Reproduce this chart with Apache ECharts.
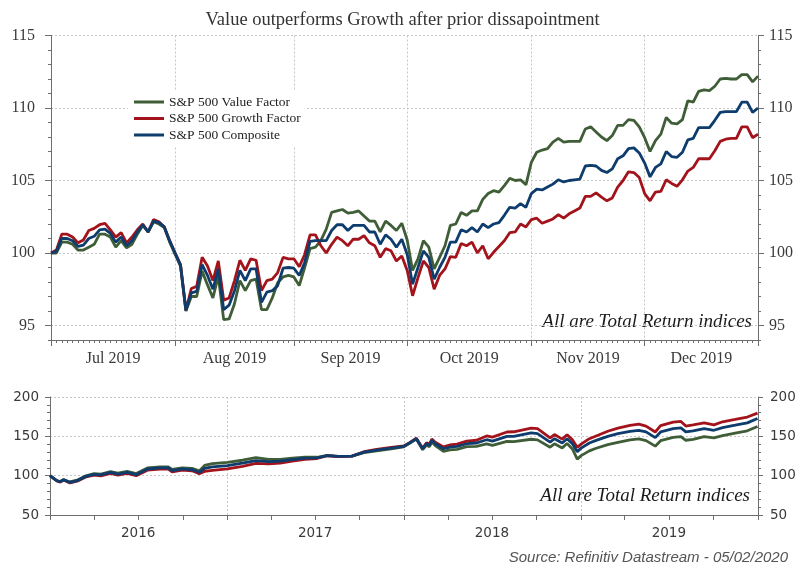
<!DOCTYPE html>
<html><head><meta charset="utf-8">
<script src="https://cdn.jsdelivr.net/npm/echarts@6/dist/echarts.min.js"></script>
<style>html,body{margin:0;padding:0;background:#fff}#c{width:805px;height:567px}</style>
</head><body><div id="c"></div>
<script>
// ---------- data ----------
const seriesNames = ['S&P 500 Value Factor', 'S&P 500 Growth Factor', 'S&P 500 Composite'];

// Top panel: daily (weekday) values, 1 Jul 2019 .. 31 Dec 2019, rebased to 100
const valueFactor2019 = [
100,100.0,100.75,100.75,100.6,100.2,100.2,100.4,100.6,101.3,101.3,101.1,100.4,100.85,100.35,100.6,101.3,101.9,101.45,102.15,102.0,101.75,100.75,
99.9,99.1,96.0,97.0,97.0,98.75,97.8,96.9,98.4,95.4,95.45,96.5,98.1,97.4,98.1,98.2,96.1,96.1,96.9,97.95,98.35,98.45,
98.35,97.75,99.0,100.3,100.4,100.85,101.65,102.8,102.9,103.0,102.75,102.8,102.9,102.55,102.2,102.2,101.45,102.2,101.9,101.55,102.05,
100.9,98.8,99.6,100.85,100.4,98.9,99.7,100.5,101.9,102.0,102.8,102.6,102.9,102.9,103.7,104.1,104.3,104.2,104.65,105.15,105.0,105.05,104.7,
106.25,106.95,107.1,107.2,107.65,107.9,107.65,107.7,107.7,107.7,108.55,108.7,108.35,108.0,107.75,108.1,108.8,108.8,109.2,109.15,108.7,
107.95,107.0,107.75,108.2,109.35,108.95,108.9,109.2,110.5,110.4,111.15,111.25,111.2,111.5,112.0,112.05,112.0,112.0,112.3,112.3,111.8,112.2];
const growthFactor2019 = [
100,100.2,101.3,101.3,101.1,100.7,100.9,101.55,101.7,101.95,102.05,101.6,101.1,101.4,100.7,101.1,101.6,102.0,101.45,102.3,102.15,101.8,100.85,
100.0,99.2,96.05,97.55,97.7,99.7,99.1,98.1,99.45,96.75,96.9,98.1,99.5,98.8,99.6,99.5,97.4,98.1,98.2,98.65,99.7,99.6,
99.6,99.05,99.9,101.25,101.25,100.5,100.0,100.6,101.1,100.85,100.5,100.95,100.95,101.2,100.7,100.5,99.7,100.3,100.15,99.45,99.8,
98.8,97.05,98.3,99.45,99.0,97.5,98.45,98.9,99.75,99.7,100.65,100.5,100.75,100.0,100.5,99.6,100.05,100.45,100.85,101.4,101.45,102.0,101.8,
102.3,102.4,102.05,102.2,102.35,102.65,102.4,102.7,102.9,103.1,103.9,103.9,104.15,103.85,103.6,103.8,104.55,105.0,105.6,105.55,105.2,
104.1,103.6,104.2,104.25,105.05,104.8,104.6,105.05,105.65,105.9,106.5,106.5,106.5,107.05,107.7,107.85,107.9,107.9,108.7,108.7,107.95,108.2];
const composite2019 = [
100,100.1,101.0,101.0,100.85,100.45,100.55,101.0,101.15,101.6,101.65,101.35,100.75,101.1,100.5,100.85,101.45,101.95,101.45,102.2,102.1,101.8,100.8,
100.0,99.15,96.05,97.25,97.35,99.2,98.45,97.5,98.9,96.1,96.4,97.4,98.8,98.1,98.9,98.9,96.6,97.3,97.4,97.75,98.95,99.0,
98.95,98.45,99.35,100.8,100.85,100.85,100.85,101.55,101.95,101.95,101.55,101.9,101.9,101.9,101.45,101.45,100.6,101.25,100.95,100.4,100.95,
99.9,97.85,99.0,100.15,99.7,98.2,99.0,99.7,100.75,100.75,101.6,101.45,101.75,101.45,102.0,101.75,102.0,102.1,102.6,103.15,103.1,103.4,103.15,
104.1,104.4,104.35,104.55,104.75,105.05,104.9,105.0,105.05,105.1,106.0,106.05,106.0,105.7,105.55,105.8,106.5,106.7,107.2,107.25,106.9,
106.2,105.25,105.9,106.15,107.0,106.65,106.6,106.95,107.8,107.9,108.65,108.65,108.65,109.15,109.7,109.75,109.75,109.75,110.4,110.4,109.7,110.0];

const monthLabels = ['Jul 2019', 'Aug 2019', 'Sep 2019', 'Oct 2019', 'Nov 2019', 'Dec 2019'];
const topYTicks = [95, 100, 105, 110, 115];

// Bottom panel: long history 2016-2019, rebased to 100
const longDates = [
'2016-01-01','2016-01-15','2016-01-22','2016-01-29','2016-02-11','2016-02-26','2016-03-15','2016-04-01','2016-04-15','2016-05-05','2016-05-20',
'2016-06-08','2016-06-27','2016-07-20','2016-08-15','2016-09-01','2016-09-09','2016-09-30','2016-10-20','2016-11-04','2016-11-15','2016-12-01',
'2017-01-01','2017-02-01','2017-03-01','2017-03-27','2017-04-20','2017-05-15','2017-06-10','2017-07-05','2017-07-26','2017-08-18','2017-09-15',
'2017-10-10','2017-11-05','2017-12-05','2017-12-31',
'2018-01-12','2018-01-26','2018-02-08','2018-02-16','2018-02-22','2018-02-27','2018-03-06','2018-03-23','2018-04-05','2018-04-20','2018-05-10',
'2018-05-30','2018-06-20','2018-07-02','2018-08-01','2018-08-15','2018-09-20','2018-10-03','2018-10-29','2018-11-07','2018-11-23','2018-12-03',
'2018-12-14','2018-12-24',
'2019-01-01','2019-01-18','2019-02-01','2019-02-25','2019-03-18','2019-04-12','2019-04-30','2019-05-15','2019-06-03','2019-06-14','2019-07-10',
'2019-07-26','2019-08-05','2019-08-20','2019-09-12','2019-10-02','2019-10-20','2019-11-15','2019-12-10','2019-12-31'];
const longValue = [
100,93.8,92.6,95.0,92.0,94.2,99.8,102.5,102.0,105.3,103.3,105.5,102.6,109.8,111.2,111.2,107.9,110.0,109.2,106.0,113.0,115.4,
117.0,119.6,122.8,120.6,120.6,122.2,123.5,123.4,125.8,124.5,124.8,129.4,131.6,134.0,136.6,
141.0,146.5,133.0,139.0,136.8,142.8,138.2,131.0,132.8,133.5,136.8,137.3,140.5,138.5,143.5,143.3,146.3,145.5,136.2,140.5,135.3,140.8,134.0,121.0,
125.5,131.5,134.8,139.5,142.3,145.5,146.8,144.5,137.5,144.5,148.7,149.5,145.0,146.0,149.5,148.0,150.8,154.0,157.0,162.5];
const longGrowth = [
100,93.2,91.8,94.5,90.8,93.0,98.3,100.8,99.8,103.0,100.8,103.0,99.9,107.0,108.2,108.3,104.8,107.0,106.2,102.6,105.5,106.8,
108.5,111.8,115.5,115.0,116.0,118.6,120.8,121.8,125.3,124.2,124.8,130.4,133.3,135.8,137.8,
142.0,147.5,135.0,141.8,140.0,146.5,142.5,136.5,139.0,140.0,143.8,145.0,150.5,149.0,155.5,155.8,160.5,159.8,148.0,152.3,146.5,152.0,145.5,136.0,
140.0,147.0,150.5,156.5,160.5,164.0,165.5,163.0,155.5,163.5,168.0,169.0,163.0,164.5,167.0,164.5,168.5,171.5,174.5,179.5];
const longComposite = [
100,93.6,92.3,94.9,91.5,93.6,99.1,101.7,100.9,104.3,102.1,104.3,101.3,108.5,109.8,109.8,106.4,108.5,107.7,104.3,109.4,111.1,
112.8,115.8,119.2,117.9,118.4,120.5,122.2,122.6,125.6,124.4,124.8,129.9,132.5,135.0,137.2,
141.5,147.0,134.2,140.6,138.5,144.9,140.6,134.2,136.3,137.2,140.6,141.5,145.7,144.0,150.0,150.0,154.3,153.4,142.7,147.0,141.5,147.0,140.6,130.5,
135.0,141.5,144.9,150.0,153.4,156.4,157.7,155.6,148.3,155.6,159.8,160.7,155.6,156.8,159.8,157.7,161.1,164.1,167.1,172.6];
const years = [2016, 2017, 2018, 2019];
const bottomYTicks = [50, 100, 150, 200];

// ---------- derived axis helpers ----------
const categories = [];
for (let d = new Date(2019, 6, 1); d <= new Date(2019, 11, 31); d.setDate(d.getDate() + 1)) {
  const wd = d.getDay();
  if (wd === 0 || wd === 6) continue;
  categories.push(d.getFullYear() + '-' + String(d.getMonth() + 1).padStart(2, '0') + '-' + String(d.getDate()).padStart(2, '0'));
}
const monthStarts = [];
categories.forEach((c, i) => { if (i === 0 || c.slice(5, 7) !== categories[i - 1].slice(5, 7)) monthStarts.push(i); });
const lastIdx = categories.length - 1;
const monthMids = monthStarts.map((s, k) => (s + (k + 1 < monthStarts.length ? monthStarts[k + 1] : lastIdx)) / 2);
const monthStartSet = new Set(monthStarts.slice(1));

const ts = (y, m, d) => new Date(y, m, d).getTime();
const parseDay = (s) => ts(+s.slice(0, 4), +s.slice(5, 7) - 1, +s.slice(8, 10));
const quarterTicks = [];
years.forEach(y => [0, 3, 6, 9].forEach(m => quarterTicks.push(ts(y, m, 1))));
quarterTicks.push(ts(years[years.length - 1] + 1, 0, 1));
const yearMids = years.map(y => ts(y, 6, 1));
const yearStarts = years.slice(1).map(y => ts(y, 0, 1));

// ---------- styles ----------
const colors = ['#3f5d37', '#a3131b', '#0d3c6d'];
const axisColor = '#6e6e6e';
const textColor = '#3a3a3a';
const gridLine = { color: '#c6c6c6', type: [2, 2], width: 1 };
const serif = 'Liberation Serif';
const sans = 'DejaVu Sans';

const chart = echarts.init(document.getElementById('c'), null, { renderer: 'canvas' });

function topSeries(name, data, i) {
  return { name, type: 'line', xAxisIndex: 0, yAxisIndex: 0, data, symbol: 'none',
    lineStyle: { width: 2.8, color: colors[i] }, itemStyle: { color: colors[i] }, emphasis: { disabled: true }, animation: false };
}
function longSeries(name, data, i, extra) {
  return Object.assign({ name, type: 'line', xAxisIndex: 2, yAxisIndex: 4,
    data: longDates.map((d, k) => [parseDay(d), data[k]]), symbol: 'none',
    lineStyle: { width: 2.8, color: colors[i] }, itemStyle: { color: colors[i] }, emphasis: { disabled: true }, animation: false }, extra || {});
}

const option = {
  backgroundColor: '#fff',
  animation: false,
  title: {
    text: 'Value outperforms Growth after prior dissapointment',
    left: 'center', top: 6,
    textStyle: { fontFamily: serif, fontSize: 18.5, fontWeight: 'normal', color: '#333' }
  },
  legend: {
    data: seriesNames, orient: 'vertical', left: 128, top: 91,
    icon: 'rect', itemWidth: 30, itemHeight: 3, itemGap: 2.5,
    padding: [4, 6], backgroundColor: '#fff',
    textStyle: { fontFamily: serif, fontSize: 13.5, lineHeight: 13, color: '#222' },
    selectedMode: false
  },
  grid: [
    { left: 51, right: 47, top: 35.5, height: 304.5 },
    { left: 50, right: 47, top: 397, height: 118 }
  ],
  xAxis: [
    { gridIndex: 0, type: 'category', data: categories, boundaryGap: false,
      axisLine: { lineStyle: { color: axisColor } },
      axisTick: { interval: 0, length: 3, lineStyle: { color: axisColor } },
      axisLabel: { show: false },
      splitLine: { show: true, interval: (i) => monthStartSet.has(i), lineStyle: gridLine } },
    { gridIndex: 0, type: 'value', min: 0, max: lastIdx, position: 'bottom',
      axisLine: { show: false }, splitLine: { show: false },
      axisTick: { show: true, length: 6, customValues: monthStarts.concat([lastIdx]), lineStyle: { color: axisColor } },
      axisLabel: { customValues: monthMids, margin: 11, fontFamily: serif, fontSize: 16, color: textColor,
        formatter: (v) => { let b = 0; monthMids.forEach((m, k) => { if (Math.abs(m - v) < Math.abs(monthMids[b] - v)) b = k; }); return monthLabels[b]; } } },
    { gridIndex: 1, type: 'value', min: ts(2016, 0, 1), max: ts(2020, 0, 1),
      axisLine: { lineStyle: { color: axisColor } },
      axisTick: { show: true, length: 5, customValues: quarterTicks, lineStyle: { color: axisColor } },
      axisLabel: { customValues: yearMids, margin: 11, fontFamily: sans, fontSize: 13.5, color: textColor,
        formatter: (v) => String(new Date(v).getFullYear()) },
      splitLine: { show: false } }
  ],
  yAxis: [
    { gridIndex: 0, type: 'value', min: 94, max: 115, position: 'left',
      axisLine: { show: true, lineStyle: { color: axisColor } },
      axisTick: { show: true, length: 6, customValues: topYTicks, lineStyle: { color: axisColor } },
      axisLabel: { customValues: topYTicks, margin: 16, fontFamily: serif, fontSize: 16, color: textColor },
      splitLine: { show: true, lineStyle: gridLine } },
    { gridIndex: 0, type: 'value', min: 94, max: 115, position: 'right',
      axisLine: { show: true, lineStyle: { color: axisColor } },
      axisTick: { show: true, length: 6, customValues: topYTicks, lineStyle: { color: axisColor } },
      axisLabel: { customValues: topYTicks, margin: 11, fontFamily: serif, fontSize: 16, color: textColor },
      splitLine: { show: false } },
    { gridIndex: 0, type: 'value', min: 94, max: 115, interval: 1, position: 'left',
      axisLine: { show: false }, axisLabel: { show: false }, splitLine: { show: false },
      axisTick: { show: true, length: 3, lineStyle: { color: axisColor } } },
    { gridIndex: 0, type: 'value', min: 94, max: 115, interval: 1, position: 'right',
      axisLine: { show: false }, axisLabel: { show: false }, splitLine: { show: false },
      axisTick: { show: true, length: 3, lineStyle: { color: axisColor } } },
    { gridIndex: 1, type: 'value', min: 50, max: 200, interval: 50, position: 'left',
      axisLine: { show: true, lineStyle: { color: axisColor } },
      axisTick: { show: true, length: 5, lineStyle: { color: axisColor } },
      minorTick: { show: true, splitNumber: 5, length: 3, lineStyle: { color: axisColor } },
      axisLabel: { margin: 11, fontFamily: sans, fontSize: 13.5, color: textColor },
      splitLine: { show: true, lineStyle: gridLine } },
    { gridIndex: 1, type: 'value', min: 50, max: 200, interval: 50, position: 'right',
      axisLine: { show: true, lineStyle: { color: axisColor } },
      axisTick: { show: true, length: 5, lineStyle: { color: axisColor } },
      minorTick: { show: true, splitNumber: 5, length: 3, lineStyle: { color: axisColor } },
      axisLabel: { margin: 12, fontFamily: sans, fontSize: 13.5, color: textColor },
      splitLine: { show: false } }
  ],
  series: [
    topSeries(seriesNames[0], valueFactor2019, 0),
    topSeries(seriesNames[1], growthFactor2019, 1),
    topSeries(seriesNames[2], composite2019, 2),
    longSeries(seriesNames[0], longValue, 0, {
      markLine: { silent: true, symbol: 'none', z: 1, label: { show: false }, lineStyle: gridLine, animation: false,
        data: yearStarts.map(t => ({ xAxis: t })) } }),
    longSeries(seriesNames[1], longGrowth, 1),
    longSeries(seriesNames[2], longComposite, 2)
  ],
  graphic: [
    { type: 'text', right: 53, top: 312, silent: true,
      style: { text: 'All are Total Return indices', font: 'italic 19px "Liberation Serif"', fill: '#1a1a1a' } },
    { type: 'text', right: 55, top: 486, silent: true,
      style: { text: 'All are Total Return indices', font: 'italic 19px "Liberation Serif"', fill: '#1a1a1a' } },
    { type: 'text', right: 17, top: 550, silent: true,
      style: { text: 'Source: Refinitiv Datastream - 05/02/2020', font: 'italic 15px "Liberation Sans"', fill: '#555' } }
  ]
};
chart.setOption(option);
</script>
</body></html>
